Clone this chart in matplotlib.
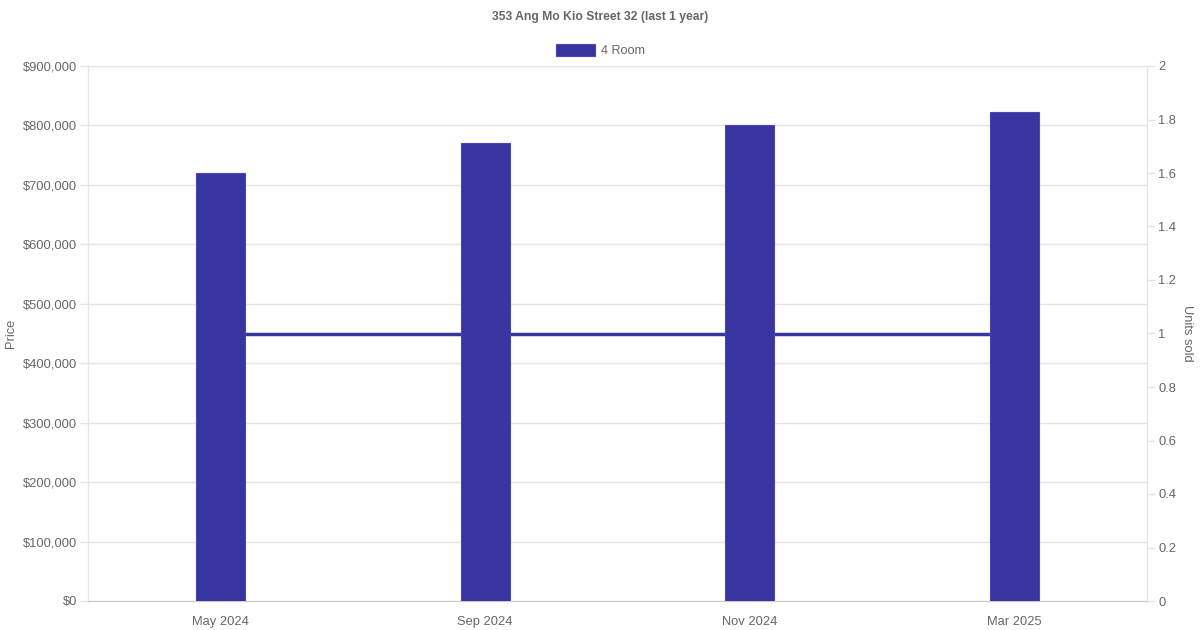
import matplotlib.pyplot as plt
import matplotlib.ticker as mticker
import numpy as np

plt.rcParams['font.family'] = ['Liberation Sans', 'DejaVu Sans']

months = ['May 2024', 'Sep 2024', 'Nov 2024', 'Mar 2025']
prices = [720000, 770000, 800000, 822000]
units_sold = [1, 1, 1, 1]

bar_color = '#3834a0'
text_color = '#666666'
grid_color = '#e5e5e5'

fig = plt.figure(figsize=(12, 6.3), dpi=100)
ax = fig.add_axes([88 / 1200, 1 - 601 / 630, (1147 - 88) / 1200, (601 - 66) / 630])
ax2 = ax.twinx()

x = np.arange(len(months))

# line on the right axis, drawn behind the bars
ax2.plot(x, units_sold, color=bar_color, linewidth=2.5, zorder=1)
ax2.set_ylim(0, 2)
ax2.yaxis.set_major_locator(mticker.MultipleLocator(0.2))
ax2.yaxis.set_major_formatter(mticker.FuncFormatter(lambda v, p: f'{v:g}'))

ax.set_zorder(ax2.get_zorder() + 1)
ax.patch.set_visible(False)
ax.bar(x, prices, width=0.186, color=bar_color, edgecolor='#4a46b4', linewidth=0.8, zorder=3)

ax.set_xlim(-0.5, len(months) - 0.5)
ax.set_ylim(0, 900000)
ax.yaxis.set_major_locator(mticker.MultipleLocator(100000))
ax.yaxis.set_major_formatter(mticker.FuncFormatter(lambda v, p: f'${v:,.0f}'))
ax.set_xticks(x)
ax.set_xticklabels(months)
ax.grid(axis='y', color=grid_color, linewidth=1, zorder=0)
ax.set_axisbelow(True)

for a in (ax, ax2):
    a.tick_params(colors=text_color, labelsize=9.3, length=5.8, width=1, pad=2.2)
    a.tick_params(axis='y', color=grid_color)
    for s in a.spines.values():
        s.set_color(grid_color)
    a.spines['bottom'].set_color('#cccccc')
ax.tick_params(axis='x', length=0, pad=11)

ax.set_ylabel('Price', color=text_color, fontsize=9.3, va='center')
ax.yaxis.set_label_coords((11 - 88) / 1059, 0.5)
ax2.set_ylabel('Units sold', color=text_color, fontsize=9.3, rotation=-90, va='center')
ax2.yaxis.set_label_coords((1187 - 88) / 1059, 0.5)

fig.text(0.5, 1 - 17 / 630, '353 Ang Mo Kio Street 32 (last 1 year)', ha='center', va='center',
         fontsize=8.7, fontweight='bold', color=text_color)

# legend
fig.patches.append(plt.Rectangle((556 / 1200, 1 - 56 / 630), 39 / 1200, 12 / 630,
                                 transform=fig.transFigure, facecolor=bar_color,
                                 edgecolor='#4a46b4', linewidth=0.8))
fig.text(601 / 1200, 1 - 50.5 / 630, '4 Room', ha='left', va='center', fontsize=9.1, color=text_color)

fig.savefig('out.png', dpi=100)
